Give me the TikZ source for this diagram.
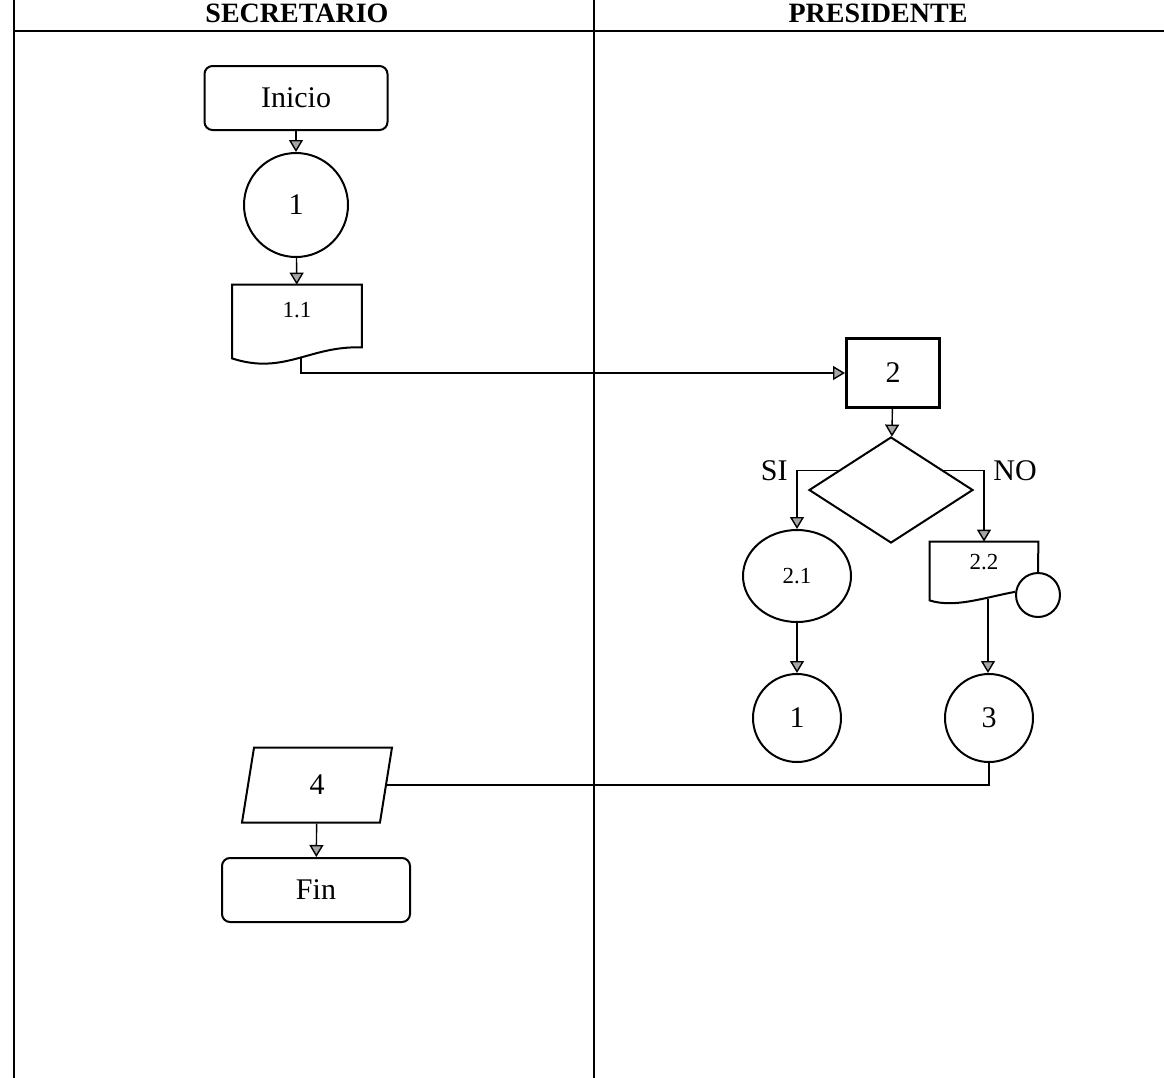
\documentclass[tikz,border=0pt]{standalone}
\usepackage{fontspec}
\setmainfont{Liberation Serif}
\usetikzlibrary{arrows.meta,shapes,calc,positioning}
\tikzset{
	flecha/.style={-{Triangle[width=7pt,length=6pt,fill=gray!70]},line width=0.7pt},
	linea/.style={line width=1pt},
	txt/.style={font=\fontsize{15}{17}\selectfont},
	txtsmall/.style={font=\fontsize{11.5}{13}\selectfont},
	cabecera/.style={font=\bfseries\fontsize{14}{16}\selectfont},
	terminal/.style={draw,linea,txt,rounded corners=4pt,minimum height=32pt},
	conector/.style={circle,draw,linea,txt,inner sep=0pt},
}
\begin{document}
\begin{tikzpicture}[x=0.5pt,y=-0.5pt]
	\useasboundingbox (0,0) rectangle (1164,1078);
	\draw[line width=0.6pt] (14,0) -- (14,1078) (594,0) -- (594,1078);
	\draw[line width=1.2pt] (14,31) -- (1164,31);
	\node (secretario) at (297,13) [cabecera] {SECRETARIO};
	\node (presidente) at (878,13) [cabecera] {PRESIDENTE};
	\node (inicio) at (296,98) [terminal,minimum width=91.5pt] {Inicio};
	\node (c1) at (296,205) [conector,minimum size=52pt] {1};
	\node (d11) at (297,310) [txtsmall,minimum width=64.5pt,minimum height=25pt] {1.1};
	\draw[linea] (d11.north west) -- (d11.north east) -- ($(d11.south east)+(0,12)$) .. controls ($(d11.south east)+(-52,10)$) and ($(d11.south west)+(52,40)$) .. ($(d11.south west)+(0,23)$) -- cycle;
	\coordinate (d11out) at ($(d11.south)+(4,22)$);
	\node (b2) at (893,373) [draw,line width=1.5pt,txt,minimum width=46.5pt,minimum height=34.5pt] {2};
	\node (dec) at (891,490) [diamond,draw,linea,minimum width=82pt,minimum height=53pt,inner sep=0pt] {};
	\node (e21) at (797,576) [ellipse,draw,linea,txtsmall,minimum width=54pt,minimum height=46pt,inner sep=0pt] {2.1};
	\node (d22) at (984,562) [txtsmall,minimum width=54pt,minimum height=20pt] {2.2};
	\node (c22) at (1038,595) [circle,draw,linea,minimum size=22pt,inner sep=0pt] {};
	\draw[linea] (c22.north) -- (d22.north east) -- (d22.north west) -- ($(d22.south west)+(0,18)$) .. controls ($(d22.south west)+(25,26)$) and ($(d22.south west)+(55,15)$) .. (c22.172);
	\coordinate (d22out) at ($(d22.south)+(4,17)$);
	\node (c1b) at (797,718) [conector,minimum size=44pt] {1};
	\node (c3) at (989,718) [conector,minimum size=44pt] {3};
	\node (p4) at (317,785) [trapezium,trapezium left angle=70,trapezium right angle=110,trapezium stretches body,draw,linea,txt,minimum width=75pt,minimum height=37.5pt] {4};
	\node (fin) at (316,890) [terminal,minimum width=94pt] {Fin};
	\draw[flecha] (inicio) -- (c1);
	\draw[flecha] (c1) -- (d11);
	\draw[flecha] (d11out) |- (b2.west);
	\draw[flecha] (b2) -- (dec);
	\draw[flecha] ($(dec.west)!0.36!(dec.north)$) -| node[pos=0.5,left=1pt,txt] {SI} (e21.north);
	\draw[flecha] ($(dec.east)!0.36!(dec.north)$) -| node[pos=0.5,right=1pt,txt] {NO} (d22.north);
	\draw[flecha] (e21) -- (c1b);
	\draw[flecha] (d22out) -- (d22out |- c3.north);
	\draw[line width=0.7pt] (c3.south) |- (p4.east);
	\draw[flecha] (p4) -- (fin);
\end{tikzpicture}
\end{document}
